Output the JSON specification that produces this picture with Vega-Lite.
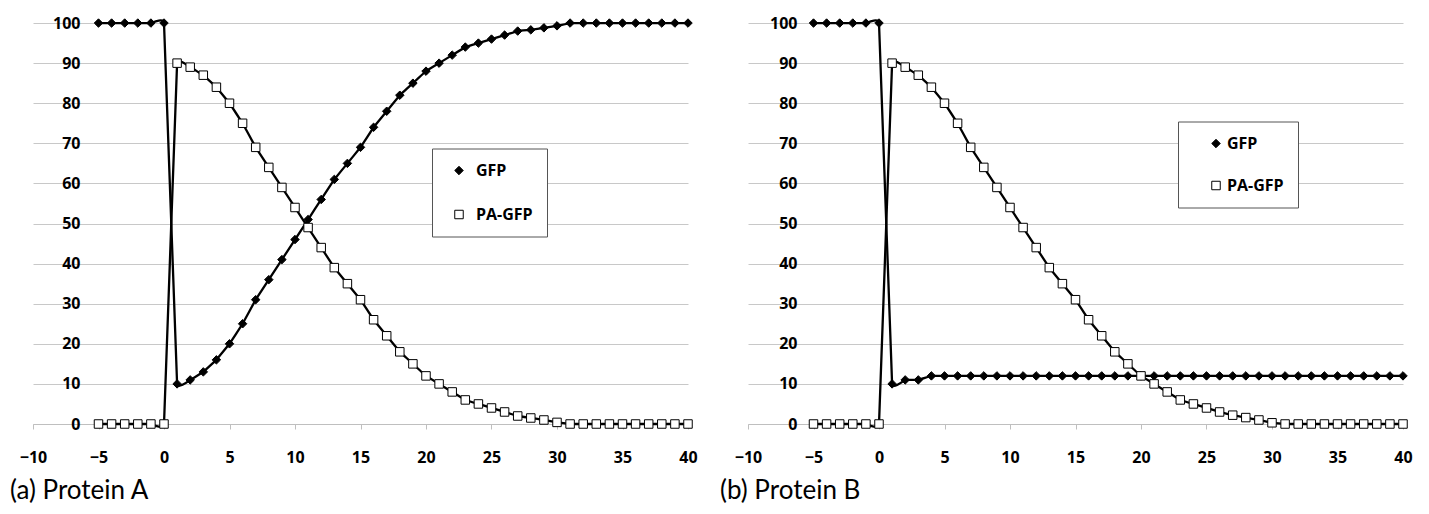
{
  "$schema": "https://vega.github.io/schema/vega-lite/v6.json",
  "background": "white",
  "padding": {"left": 10, "top": 3, "right": 0, "bottom": 0},
  "autosize": {"type": "pad"},
  "spacing": 60,
  "bounds": "flush",
  "resolve": {"scale": {"shape": "independent", "fill": "independent"}, "legend": {"shape": "independent", "fill": "independent"}},
  "config": {
    "view": {"stroke": null},
    "axis": {"labelFont": "Open Sans", "labelFontWeight": "bold", "labelFontSize": 16, "labelColor": "#000"},
    "legend": {"labelFont": "Open Sans", "labelFontWeight": "bold", "labelFontSize": 16, "labelColor": "#000"}
  },
  "data": {"values": [
    {"p":"A","t":-5,"GFP":100,"PA-GFP":0},{"p":"A","t":-4,"GFP":100,"PA-GFP":0},{"p":"A","t":-3,"GFP":100,"PA-GFP":0},{"p":"A","t":-2,"GFP":100,"PA-GFP":0},{"p":"A","t":-1,"GFP":100,"PA-GFP":0},{"p":"A","t":0,"GFP":100,"PA-GFP":0},
    {"p":"A","t":1,"GFP":10,"PA-GFP":90},{"p":"A","t":2,"GFP":11,"PA-GFP":89},{"p":"A","t":3,"GFP":13,"PA-GFP":87},{"p":"A","t":4,"GFP":16,"PA-GFP":84},{"p":"A","t":5,"GFP":20,"PA-GFP":80},
    {"p":"A","t":6,"GFP":25,"PA-GFP":75},{"p":"A","t":7,"GFP":31,"PA-GFP":69},{"p":"A","t":8,"GFP":36,"PA-GFP":64},{"p":"A","t":9,"GFP":41,"PA-GFP":59},{"p":"A","t":10,"GFP":46,"PA-GFP":54},
    {"p":"A","t":11,"GFP":51,"PA-GFP":49},{"p":"A","t":12,"GFP":56,"PA-GFP":44},{"p":"A","t":13,"GFP":61,"PA-GFP":39},{"p":"A","t":14,"GFP":65,"PA-GFP":35},{"p":"A","t":15,"GFP":69,"PA-GFP":31},
    {"p":"A","t":16,"GFP":74,"PA-GFP":26},{"p":"A","t":17,"GFP":78,"PA-GFP":22},{"p":"A","t":18,"GFP":82,"PA-GFP":18},{"p":"A","t":19,"GFP":85,"PA-GFP":15},{"p":"A","t":20,"GFP":88,"PA-GFP":12},
    {"p":"A","t":21,"GFP":90,"PA-GFP":10},{"p":"A","t":22,"GFP":92,"PA-GFP":8},{"p":"A","t":23,"GFP":94,"PA-GFP":6},{"p":"A","t":24,"GFP":95,"PA-GFP":5},{"p":"A","t":25,"GFP":96,"PA-GFP":4},
    {"p":"A","t":26,"GFP":97,"PA-GFP":3},{"p":"A","t":27,"GFP":98,"PA-GFP":2},{"p":"A","t":28,"GFP":98.3,"PA-GFP":1.5},{"p":"A","t":29,"GFP":98.8,"PA-GFP":1},{"p":"A","t":30,"GFP":99.3,"PA-GFP":0.4},
    {"p":"A","t":31,"GFP":100,"PA-GFP":0},{"p":"A","t":32,"GFP":100,"PA-GFP":0},{"p":"A","t":33,"GFP":100,"PA-GFP":0},{"p":"A","t":34,"GFP":100,"PA-GFP":0},{"p":"A","t":35,"GFP":100,"PA-GFP":0},
    {"p":"A","t":36,"GFP":100,"PA-GFP":0},{"p":"A","t":37,"GFP":100,"PA-GFP":0},{"p":"A","t":38,"GFP":100,"PA-GFP":0},{"p":"A","t":39,"GFP":100,"PA-GFP":0},{"p":"A","t":40,"GFP":100,"PA-GFP":0},
    {"p":"B","t":-5,"GFP":100,"PA-GFP":0},{"p":"B","t":-4,"GFP":100,"PA-GFP":0},{"p":"B","t":-3,"GFP":100,"PA-GFP":0},{"p":"B","t":-2,"GFP":100,"PA-GFP":0},{"p":"B","t":-1,"GFP":100,"PA-GFP":0},{"p":"B","t":0,"GFP":100,"PA-GFP":0},
    {"p":"B","t":1,"GFP":10,"PA-GFP":90},{"p":"B","t":2,"GFP":11,"PA-GFP":89},{"p":"B","t":3,"GFP":11,"PA-GFP":87},{"p":"B","t":4,"GFP":12,"PA-GFP":84},{"p":"B","t":5,"GFP":12,"PA-GFP":80},
    {"p":"B","t":6,"GFP":12,"PA-GFP":75},{"p":"B","t":7,"GFP":12,"PA-GFP":69},{"p":"B","t":8,"GFP":12,"PA-GFP":64},{"p":"B","t":9,"GFP":12,"PA-GFP":59},{"p":"B","t":10,"GFP":12,"PA-GFP":54},
    {"p":"B","t":11,"GFP":12,"PA-GFP":49},{"p":"B","t":12,"GFP":12,"PA-GFP":44},{"p":"B","t":13,"GFP":12,"PA-GFP":39},{"p":"B","t":14,"GFP":12,"PA-GFP":35},{"p":"B","t":15,"GFP":12,"PA-GFP":31},
    {"p":"B","t":16,"GFP":12,"PA-GFP":26},{"p":"B","t":17,"GFP":12,"PA-GFP":22},{"p":"B","t":18,"GFP":12,"PA-GFP":18},{"p":"B","t":19,"GFP":12,"PA-GFP":15},{"p":"B","t":20,"GFP":12,"PA-GFP":12},
    {"p":"B","t":21,"GFP":12,"PA-GFP":10},{"p":"B","t":22,"GFP":12,"PA-GFP":8},{"p":"B","t":23,"GFP":12,"PA-GFP":6},{"p":"B","t":24,"GFP":12,"PA-GFP":5},{"p":"B","t":25,"GFP":12,"PA-GFP":4},
    {"p":"B","t":26,"GFP":12,"PA-GFP":3},{"p":"B","t":27,"GFP":12,"PA-GFP":2.2},{"p":"B","t":28,"GFP":12,"PA-GFP":1.6},{"p":"B","t":29,"GFP":12,"PA-GFP":1},{"p":"B","t":30,"GFP":12,"PA-GFP":0.3},
    {"p":"B","t":31,"GFP":12,"PA-GFP":0},{"p":"B","t":32,"GFP":12,"PA-GFP":0},{"p":"B","t":33,"GFP":12,"PA-GFP":0},{"p":"B","t":34,"GFP":12,"PA-GFP":0},{"p":"B","t":35,"GFP":12,"PA-GFP":0},
    {"p":"B","t":36,"GFP":12,"PA-GFP":0},{"p":"B","t":37,"GFP":12,"PA-GFP":0},{"p":"B","t":38,"GFP":12,"PA-GFP":0},{"p":"B","t":39,"GFP":12,"PA-GFP":0},{"p":"B","t":40,"GFP":12,"PA-GFP":0}
  ]},
  "hconcat": [
    {
      "width": 655, "height": 421,
      "title": {"text": "(a) Protein A", "orient": "bottom", "anchor": "start", "frame": "group", "dx": -23, "offset": 13, "font": "Lato", "fontSize": 26, "fontWeight": "normal", "color": "#000"},
      "transform": [{"filter": "datum.p === 'A'"}, {"fold": ["GFP", "PA-GFP"], "as": ["series", "value"]}],
      "encoding": {
        "x": {"field": "t", "type": "quantitative", "scale": {"domain": [-10, 40], "nice": false, "zero": false},
              "axis": {"values": [-10,-5,0,5,10,15,20,25,30,35,40], "title": null, "grid": false, "domainColor": "#bfbfbf", "tickColor": "#bfbfbf", "tickSize": 5, "labelPadding": 20, "labelFlush": false}},
        "y": {"field": "value", "type": "quantitative", "scale": {"domain": [0, 105], "nice": false},
              "axis": {"values": [0,10,20,30,40,50,60,70,80,90,100], "title": null, "domain": false, "ticks": false, "tickSize": 0, "labelPadding": -47, "gridColor": "#c8c8c8", "gridWidth": 1}}
      },
      "layer": [
        {"data": {"values": [{}]}, "mark": {"type": "rule", "color": "#bfbfbf", "strokeWidth": 1},
         "encoding": {"x": {"datum": -5}, "y": {"datum": 0}, "y2": {"datum": 105}}},
        {"mark": {"type": "line", "interpolate": "cardinal", "tension": 0.9, "color": "#000", "strokeWidth": 2.3},
         "encoding": {"detail": {"field": "series"}}},
        {"mark": {"type": "point", "filled": true, "opacity": 1, "stroke": "#000", "strokeWidth": 1, "size": 72},
         "encoding": {
           "shape": {"field": "series", "type": "nominal", "scale": {"domain": ["GFP", "PA-GFP"], "range": ["diamond", "square"]},
             "legend": {"orient": "none", "legendX": 399, "legendY": 145.5, "title": null, "strokeColor": "#555", "fillColor": "#fff", "padding": 14, "rowPadding": 28, "labelOffset": 9, "symbolOffset": 5, "symbolSize": 72, "symbolStrokeWidth": 1}},
           "fill": {"field": "series", "type": "nominal", "scale": {"domain": ["GFP", "PA-GFP"], "range": ["#000", "#fff"]}}
         }}
      ]
    },
    {
      "width": 655, "height": 421,
      "title": {"text": "(b) Protein B", "orient": "bottom", "anchor": "start", "frame": "group", "dx": -28, "offset": 13, "font": "Lato", "fontSize": 26, "fontWeight": "normal", "color": "#000"},
      "transform": [{"filter": "datum.p === 'B'"}, {"fold": ["GFP", "PA-GFP"], "as": ["series", "value"]}],
      "encoding": {
        "x": {"field": "t", "type": "quantitative", "scale": {"domain": [-10, 40], "nice": false, "zero": false},
              "axis": {"values": [-10,-5,0,5,10,15,20,25,30,35,40], "title": null, "grid": false, "domainColor": "#bfbfbf", "tickColor": "#bfbfbf", "tickSize": 5, "labelPadding": 20, "labelFlush": false}},
        "y": {"field": "value", "type": "quantitative", "scale": {"domain": [0, 105], "nice": false},
              "axis": {"values": [0,10,20,30,40,50,60,70,80,90,100], "title": null, "domain": false, "ticks": false, "tickSize": 0, "labelPadding": -49, "gridColor": "#c8c8c8", "gridWidth": 1}}
      },
      "layer": [
        {"data": {"values": [{}]}, "mark": {"type": "rule", "color": "#bfbfbf", "strokeWidth": 1},
         "encoding": {"x": {"datum": -5}, "y": {"datum": 0}, "y2": {"datum": 105}}},
        {"mark": {"type": "line", "interpolate": "cardinal", "tension": 0.9, "color": "#000", "strokeWidth": 2.3},
         "encoding": {"detail": {"field": "series"}}},
        {"mark": {"type": "point", "filled": true, "opacity": 1, "stroke": "#000", "strokeWidth": 1, "size": 72},
         "encoding": {
           "shape": {"field": "series", "type": "nominal", "scale": {"domain": ["GFP", "PA-GFP"], "range": ["diamond", "square"]},
             "legend": {"orient": "none", "legendX": 430, "legendY": 118.5, "title": null, "strokeColor": "#555", "fillColor": "#fff", "padding": 14, "rowPadding": 26, "labelOffset": 3, "symbolOffset": 16, "symbolSize": 72, "symbolStrokeWidth": 1}},
           "fill": {"field": "series", "type": "nominal", "scale": {"domain": ["GFP", "PA-GFP"], "range": ["#000", "#fff"]}}
         }}
      ]
    }
  ]
}
